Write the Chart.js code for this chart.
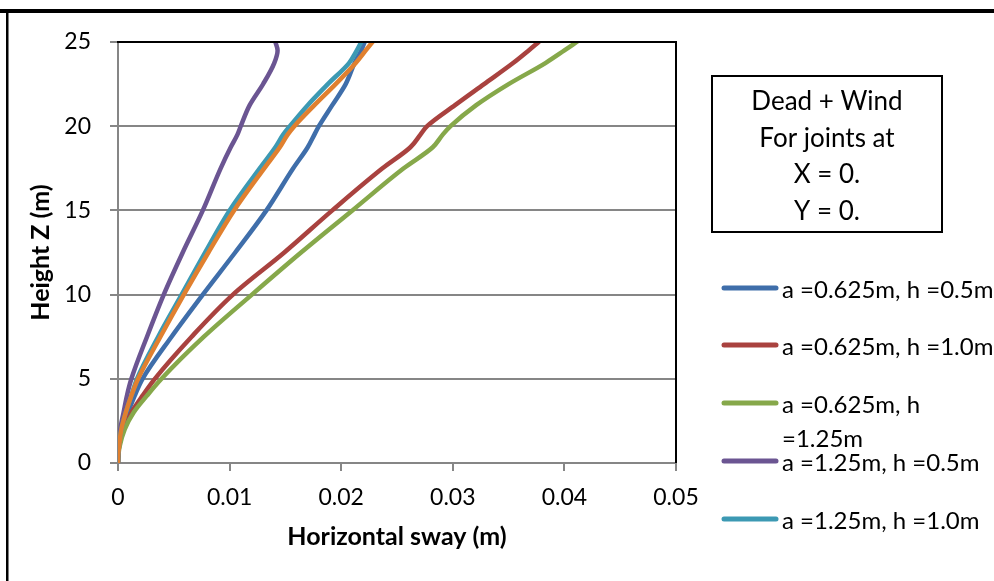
<!DOCTYPE html>
<html>
<head>
<meta charset="utf-8">
<script src="https://cdn.jsdelivr.net/npm/chart.js"></script>
<style>
html,body{margin:0;padding:0;background:#ffffff;}
#wrap{position:relative;width:994px;height:581px;overflow:hidden;}
</style>
</head>
<body>
<div id="wrap"><canvas id="c" width="994" height="581"></canvas></div>
<script>
// ---- data ----
const heights = [0, 0.5, 1, 2, 3, 4, 5, 7.5, 10, 12.5, 15, 17.5, 18.75, 19.5, 20, 21.25, 22.5, 23.75, 24.5, 25];

const swayA0625H05  = [0, 0.00003, 0.0001, 0.0004, 0.0009, 0.0015, 0.0022, 0.0048, 0.0076, 0.0105, 0.0133, 0.0157, 0.0170, 0.0176, 0.0180, 0.0192, 0.0204, 0.0212, 0.0218, 0.0221];
const swayA0625H10  = [0, 0.00003, 0.0001, 0.0005, 0.0012, 0.0022, 0.0033, 0.0066, 0.0103, 0.0149, 0.0192, 0.0237, 0.0262, 0.0271, 0.0277, 0.0302, 0.0328, 0.0354, 0.0368, 0.0377];
const swayA0625H125 = [0, 0.00004, 0.00015, 0.0006, 0.0014, 0.0026, 0.0039, 0.0077, 0.0120, 0.0164, 0.0210, 0.0256, 0.0282, 0.0291, 0.0298, 0.0321, 0.0350, 0.0383, 0.0400, 0.0411];
const swayA125H05   = [0, 0.00002, 0.00006, 0.0002, 0.0005, 0.0008, 0.0012, 0.0026, 0.0041, 0.0058, 0.0076, 0.0092, 0.0101, 0.0107, 0.0110, 0.0118, 0.0130, 0.0140, 0.0143, 0.0141];
const swayA125H10   = [0, 0.00002, 0.00008, 0.0003, 0.0007, 0.0012, 0.0017, 0.0036, 0.0057, 0.0078, 0.0100, 0.0127, 0.0141, 0.0148, 0.0154, 0.0170, 0.0188, 0.0207, 0.0214, 0.0218];
const swayA125H125  = [0, 0.00002, 0.0001, 0.0003, 0.0007, 0.0012, 0.0018, 0.0038, 0.0059, 0.0081, 0.0104, 0.0131, 0.0145, 0.0152, 0.0158, 0.0176, 0.0195, 0.0213, 0.0222, 0.0228];

const seriesLabels = ['a =0.625m, h =0.5m', 'a =0.625m, h =1.0m', 'a =0.625m, h =1.25m', 'a =1.25m, h =0.5m', 'a =1.25m, h =1.0m', 'a =1.25m, h =1.25m'];
const seriesColors = ['#3F6EAA', '#A9423F', '#86A84A', '#6B5592', '#3C99B3', '#E0802F'];
const legendCount = 5; // the sixth entry is cut off in the reference

const xTicks = [0, 0.01, 0.02, 0.03, 0.04, 0.05];
const xTickLabels = ['0', '0.01', '0.02', '0.03', '0.04', '0.05'];
const yTicks = [0, 5, 10, 15, 20, 25];
const yTickLabels = ['0', '5', '10', '15', '20', '25'];

const xTitle = 'Horizontal sway (m)';
const yTitle = 'Height Z (m)';
const noteLines = ['Dead + Wind', 'For joints at', 'X = 0.', 'Y = 0.'];

// ---- chart ----
const seriesValues = [swayA0625H05, swayA0625H10, swayA0625H125, swayA125H05, swayA125H10, swayA125H125];
const FONT = 'Lato';
const GRID = '#868686';

const datasets = seriesValues.map((vals, i) => ({
  label: seriesLabels[i],
  data: heights.map((h, k) => ({ x: vals[k], y: h })),
  borderColor: seriesColors[i],
  backgroundColor: seriesColors[i],
  borderWidth: 4.5,
  pointRadius: 0,
  pointHoverRadius: 0,
  showLine: true,
  indexAxis: 'y',
  cubicInterpolationMode: 'monotone',
  fill: false,
  borderCapStyle: 'round',
  borderJoinStyle: 'round',
  order: seriesValues.length - i
}));

const decorations = {
  id: 'decorations',
  afterDraw(chart) {
    const ctx = chart.ctx;
    const a = chart.chartArea;
    ctx.save();
    // outer frame pieces
    ctx.fillStyle = '#000';
    ctx.fillRect(0, 9, 994, 4);
    ctx.fillRect(6, 11, 2.5, 581);
    // plot area top/right border (black)
    ctx.strokeStyle = '#000';
    ctx.lineWidth = 2;
    ctx.beginPath();
    ctx.moveTo(a.left - 1, a.top);
    ctx.lineTo(a.right, a.top);
    ctx.lineTo(a.right, a.bottom);
    ctx.stroke();
    // note box
    ctx.lineWidth = 2;
    ctx.strokeRect(712, 76, 230, 156);
    ctx.fillStyle = '#000';
    ctx.font = '26px ' + FONT;
    ctx.textAlign = 'center';
    ctx.textBaseline = 'middle';
    noteLines.forEach((t, i) => ctx.fillText(t, 827, 102 + i * 36.5));
    // legend
    ctx.font = '24px ' + FONT;
    ctx.textAlign = 'left';
    const rowY = [288, 345, 403, 461, 519];
    const ds = chart.data.datasets;
    const maxW = ctx.measureText(ds[0].label).width + 4;
    for (let i = 0; i < legendCount; i++) {
      const y = rowY[i];
      ctx.strokeStyle = ds[i].borderColor;
      ctx.lineWidth = 5;
      ctx.lineCap = 'round';
      ctx.beginPath();
      ctx.moveTo(724, y);
      ctx.lineTo(776, y);
      ctx.stroke();
      ctx.fillStyle = '#000';
      const label = ds[i].label;
      if (ctx.measureText(label).width > maxW) {
        const cut = label.lastIndexOf(' ');
        ctx.fillText(label.slice(0, cut), 782, y + 2);
        ctx.fillText(label.slice(cut + 1), 782, y + 36);
      } else {
        ctx.fillText(label, 782, y + 2);
      }
    }
    ctx.restore();
  }
};

new Chart(document.getElementById('c'), {
  type: 'scatter',
  data: { datasets },
  options: {
    responsive: false,
    animation: false,
    devicePixelRatio: 1,
    layout: { padding: { left: 0, top: 42, right: 318, bottom: 0 } },
    plugins: { legend: { display: false }, tooltip: { enabled: false } },
    scales: {
      x: {
        type: 'linear',
        min: 0, max: 0.05,
        afterFit: s => { s.height = 118; },
        afterBuildTicks: s => { s.ticks = xTicks.map(v => ({ value: v })); },
        ticks: {
          callback: (v, i) => xTickLabels[i],
          color: '#000',
          font: { family: FONT, size: 23 },
          padding: 13,
          maxRotation: 0
        },
        grid: { drawOnChartArea: false, drawTicks: true, tickLength: 8, color: GRID, lineWidth: 2 },
        border: { display: true, color: GRID, width: 2 },
        title: { display: true, text: xTitle, color: '#000', font: { family: FONT, size: 25, weight: 'bold' }, padding: { top: 0, bottom: 29 } }
      },
      y: {
        type: 'linear',
        min: 0, max: 25,
        afterFit: s => { s.width = 118; },
        afterBuildTicks: s => { s.ticks = yTicks.map(v => ({ value: v })); },
        ticks: {
          callback: (v, i) => yTickLabels[i],
          color: '#000',
          font: { family: FONT, size: 23 },
          padding: 19
        },
        grid: { drawTicks: true, tickLength: 8, color: GRID, lineWidth: 2 },
        border: { display: true, color: GRID, width: 2 },
        title: { display: true, text: yTitle, color: '#000', font: { family: FONT, size: 25, weight: 'bold' }, padding: { top: 26, bottom: 0 } }
      }
    }
  },
  plugins: [decorations]
});
</script>
</body>
</html>
